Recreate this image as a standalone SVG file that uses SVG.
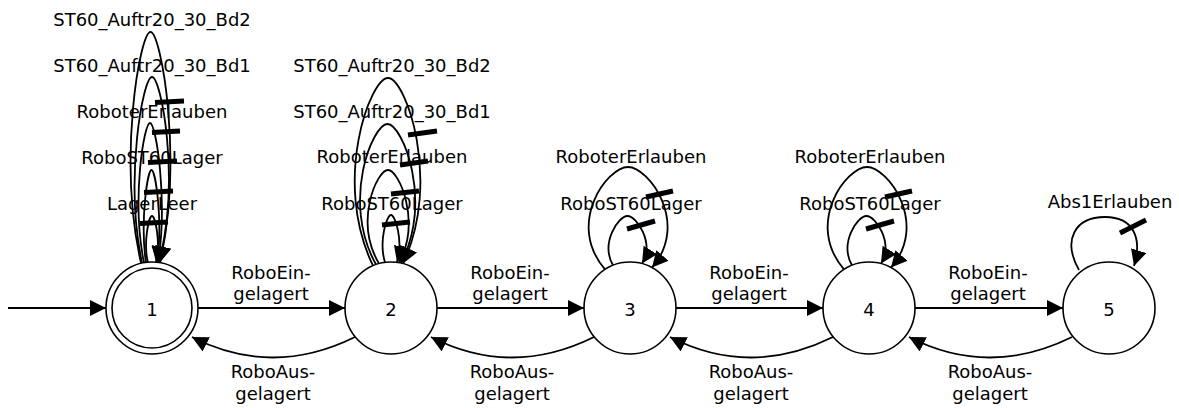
<svg xmlns="http://www.w3.org/2000/svg" width="1179" height="408" viewBox="0 0 1179 408">
  <style>
    .state { fill: #ffffff; stroke: #000000; stroke-width: 1.6; }
    .edge { fill: none; stroke: #000000; stroke-width: 1.8; marker-end: url(#arrow); }
    .tick { stroke: #000000; stroke-width: 5; }
    text { font-family: "DejaVu Sans", "Liberation Sans", sans-serif; font-size: 18px; fill: #000000; text-anchor: middle; }
  </style>
  <defs>
    <marker id="arrow" markerUnits="userSpaceOnUse" viewBox="0 0 16 16" markerWidth="16" markerHeight="16" refX="16" refY="8" orient="auto">
      <path d="M0,0 L16,8 L0,16 z" fill="#000000"/>
    </marker>
  </defs>
  <rect width="1179" height="408" fill="#ffffff"/>

  <g id="connectors">
    <!-- initial arrow -->
    <path class="edge" d="M8,308 L106,308"/>

    <!-- forward transitions -->
    <path class="edge" d="M198,308 L345,308"/>
    <path class="edge" d="M437,308 L584,308"/>
    <path class="edge" d="M676,308 L823,308"/>
    <path class="edge" d="M915,308 L1063,308"/>

    <!-- backward transitions -->
    <path class="edge" d="M355,337 Q272,378 192,337"/>
    <path class="edge" d="M594,337 Q511,378 431,337"/>
    <path class="edge" d="M833,337 Q750,378 670,337"/>
    <path class="edge" d="M1072,337 Q989,378 909,337"/>

    <!-- self loops on state 1 -->
    <path class="edge" d="M141,263 C117.5,159 140,32 150.5,32 C161,32 183.5,159 160,262.5"/>
    <path class="edge" d="M142,263 C124.3,179 143,77 152,77 C161,77 180.7,179 159,262.5"/>
    <path class="edge" d="M144,263 C131.3,200 144,123 150,123 C156,123 168,200 158,262.5"/>
    <path class="edge" d="M146,263 C139.9,221 147.6,170 151.5,170 C155.4,170 163.1,221 157,262.5"/>
    <path class="edge" d="M148,263 C143,242 149,216 152,216 C155,216 161,242 156,262.5"/>
    <line class="tick" x1="155" y1="102.5" x2="184" y2="101"/>
    <line class="tick" x1="152" y1="132.5" x2="180" y2="131"/>
    <line class="tick" x1="148" y1="162.5" x2="177" y2="161"/>
    <line class="tick" x1="144" y1="192.5" x2="173" y2="191"/>
    <line class="tick" x1="140" y1="223.5" x2="168" y2="222"/>

    <!-- self loops on state 2 -->
    <path class="edge" d="M373,265.7 C332,181 370.3,78 388,78 C405.7,78 442,181 403,263.6"/>
    <path class="edge" d="M376,264.5 C340.7,201 372.8,124 387.5,124 C402.2,124 433.6,201 401,263.1"/>
    <path class="edge" d="M379,263.6 C353.8,221 377.2,170 388,170 C398.8,170 421.5,221 399,262.7"/>
    <path class="edge" d="M385,262.4 C378.5,241 386.8,215 391,215 C395.2,215 403.5,241 397,262.4"/>
    <line class="tick" x1="408" y1="135" x2="437" y2="131"/>
    <line class="tick" x1="400" y1="165" x2="428" y2="161"/>
    <line class="tick" x1="391" y1="194" x2="419" y2="191"/>
    <line class="tick" x1="382" y1="225" x2="410" y2="222"/>

    <!-- self loops on state 3 -->
    <path class="edge" d="M605,269.4 C565.4,223 607.6,167 628,167 C648.4,167 690.3,223 652,267.6"/>
    <path class="edge" d="M613,265.3 C600.3,243 618.2,216 627.5,216 C636.8,216 654.7,243 642,263.6"/>
    <line class="tick" x1="646" y1="197" x2="673" y2="191"/>
    <line class="tick" x1="627" y1="229" x2="655" y2="221"/>

    <!-- self loops on state 4 -->
    <path class="edge" d="M844,269.4 C804.4,223 846.6,167 867,167 C887.4,167 929.3,223 891,267.6"/>
    <path class="edge" d="M852,265.3 C839.3,243 857.2,216 866.5,216 C875.8,216 893.7,243 881,263.6"/>
    <line class="tick" x1="885" y1="197" x2="912" y2="191"/>
    <line class="tick" x1="866" y1="229" x2="894" y2="221"/>

    <!-- self loop on state 5 -->
    <path class="edge" d="M1079,270 C1062,240 1075,217 1105,217 C1135,217 1142,240 1134,266"/>
    <line class="tick" x1="1120" y1="233" x2="1146" y2="220"/>

    <!-- transition labels -->
    <g id="edge-labels">
      <text x="152" y="26">ST60_Auftr20_30_Bd2</text>
      <text x="152" y="72">ST60_Auftr20_30_Bd1</text>
      <text x="152" y="118">RoboterErlauben</text>
      <text x="152" y="164">RoboST60Lager</text>
      <text x="152" y="210">LagerLeer</text>

      <text x="392" y="72">ST60_Auftr20_30_Bd2</text>
      <text x="392" y="118">ST60_Auftr20_30_Bd1</text>
      <text x="392" y="163">RoboterErlauben</text>
      <text x="392" y="210">RoboST60Lager</text>

      <text x="631" y="163">RoboterErlauben</text>
      <text x="631" y="210">RoboST60Lager</text>

      <text x="870" y="163">RoboterErlauben</text>
      <text x="870" y="210">RoboST60Lager</text>

      <text x="1110" y="208">Abs1Erlauben</text>

      <text x="271" y="279">RoboEin-</text>
      <text x="271" y="300">gelagert</text>
      <text x="510" y="279">RoboEin-</text>
      <text x="510" y="300">gelagert</text>
      <text x="749" y="279">RoboEin-</text>
      <text x="749" y="300">gelagert</text>
      <text x="988" y="279">RoboEin-</text>
      <text x="988" y="300">gelagert</text>

      <text x="273" y="378">RoboAus-</text>
      <text x="273" y="400">gelagert</text>
      <text x="512" y="378">RoboAus-</text>
      <text x="512" y="400">gelagert</text>
      <text x="751" y="378">RoboAus-</text>
      <text x="751" y="400">gelagert</text>
      <text x="990" y="378">RoboAus-</text>
      <text x="990" y="400">gelagert</text>
    </g>
  </g>

  <g id="node1">
    <circle class="state" cx="152" cy="308" r="46"/>
    <circle class="state" cx="152" cy="308" r="40"/>
    <text x="152" y="316">1</text>
  </g>
  <g id="node2">
    <circle class="state" cx="391" cy="308" r="46"/>
    <text x="391" y="316">2</text>
  </g>
  <g id="node3">
    <circle class="state" cx="630" cy="308" r="46"/>
    <text x="630" y="316">3</text>
  </g>
  <g id="node4">
    <circle class="state" cx="869" cy="308" r="46"/>
    <text x="869" y="316">4</text>
  </g>
  <g id="node5">
    <circle class="state" cx="1109" cy="308" r="46"/>
    <text x="1109" y="316">5</text>
  </g>
</svg>
